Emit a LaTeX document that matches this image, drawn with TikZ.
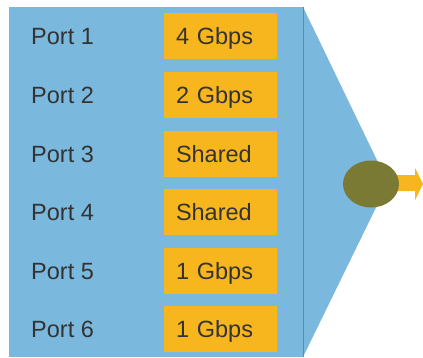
\documentclass[tikz,border=0pt]{standalone}
\usepackage{fontspec}
\usetikzlibrary{shapes.geometric}
\setmainfont{Liberation Sans}
\definecolor{panel}{HTML}{7BB8DD}
\definecolor{edge}{HTML}{3A98CE}
\definecolor{rate}{HTML}{F8B61E}
\definecolor{hub}{HTML}{7A7A34}
\definecolor{txt}{HTML}{333333}
\begin{document}
\begin{tikzpicture}[x=1pt,y=-1pt,
  portlbl/.style={anchor=west,inner sep=0pt,text height=17pt,text depth=0pt,text=txt,font=\fontsize{23.5}{25}\selectfont},
  ratebox/.style={fill=rate,minimum height=46pt,text width=89pt,inner xsep=12pt,inner ysep=0pt,align=left,text height=17pt,text depth=0pt,text=txt,font=\fontsize{23.5}{25}\selectfont}]
\useasboundingbox (0,0) rectangle (423,357);
% funnel
\fill[panel] (303,7) -- (388,183) -- (303,357) -- cycle;
% panel
\fill[panel] (9,7) rectangle (303,357);
\draw[edge,line width=1pt] (303,7) -- (303,357);
% output arrow
\fill[rate] (390,175) -- (415,175) -- (415,168) -- (423,184) -- (415,200) -- (415,191) -- (390,191) -- cycle;
\node[ellipse,fill=hub,minimum width=56pt,minimum height=47pt,inner sep=0pt] (hub) at (371,184) {};
% rows
\foreach \i/\r/\y in {1/4 Gbps/36,2/2 Gbps/95,3/Shared/153.5,4/Shared/212,5/1 Gbps/270.5,6/1 Gbps/329}{
  \node[portlbl] (p\i) at (31,\y) {Port \i};
  \node[ratebox] (r\i) at (220.5,\y) {\r};
}
\end{tikzpicture}
\end{document}
